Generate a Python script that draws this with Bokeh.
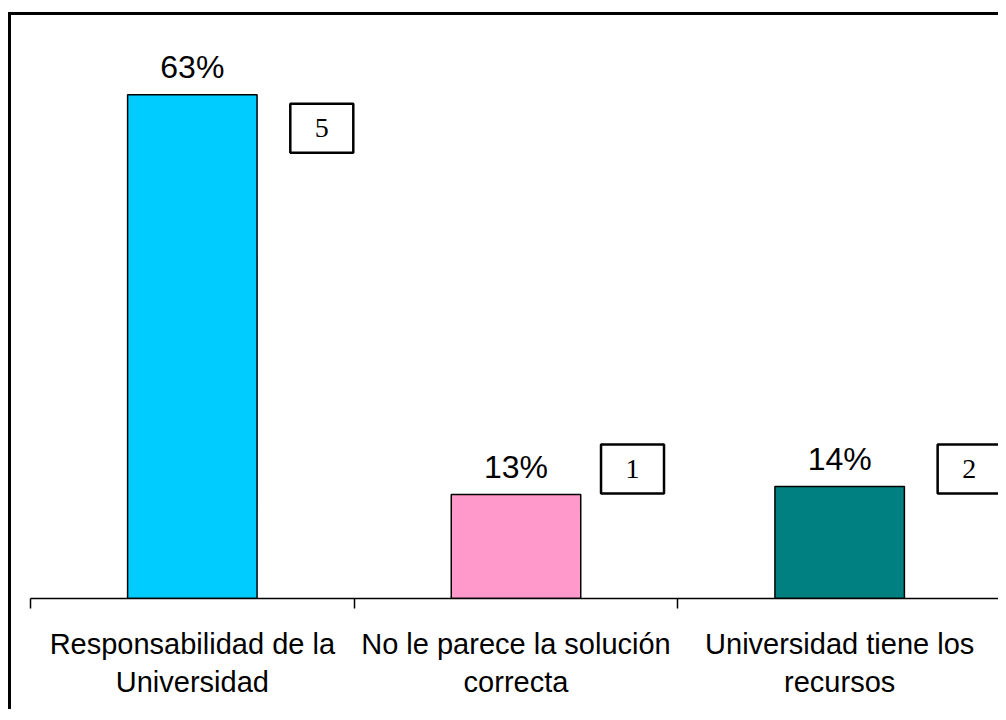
from bokeh.plotting import figure
from bokeh.models import ColumnDataSource, Range1d, LinearAxis, FixedTicker
from bokeh.core.properties import value
from bokeh.embed import file_html
from bokeh.resources import INLINE

# ---- data ----
categories = ["Responsabilidad de la\nUniversidad",
              "No le parece la solución\ncorrecta",
              "Universidad tiene los\nrecursos"]
percent = [63, 13, 14]
counts = [5, 1, 2]
colors = ["#00CCFF", "#FF99CC", "#008080"]

# label-box placement (offsets relative to each bar)
box_dx = [0.40, 0.36, 0.40]
box_dy = [-4.2, 3.2, 2.2]

FONT = "Liberation Sans"
n = len(categories)
centers = [i + 0.5 for i in range(n)]   # category slot centres

W, H = 990, 697
p = figure(x_range=Range1d(0, n), y_range=Range1d(0, 72.9),
           width=W, height=H, output_backend="svg", toolbar_location=None,
           min_border_left=19, min_border_right=0, min_border_top=0,
           min_border_bottom=114, x_axis_location=None, y_axis_location=None)
p.styles = {"border-left": "3px solid black", "border-top": "3px solid black",
            "margin-top": "12px", "margin-left": "8px"}
p.outline_line_color = None
p.xgrid.visible = False
p.ygrid.visible = False
p.background_fill_color = "white"
p.border_fill_color = "white"

src = ColumnDataSource(dict(x=centers, pct=percent, color=colors,
                            lbl=[f"{v}%" for v in percent]))
p.vbar(x="x", top="pct", width=0.4, fill_color="color", line_color="black",
       line_width=1.5, source=src)
p.text(x="x", y="pct", text="lbl", text_align="center", text_baseline="alphabetic",
       y_offset=-28, text_font=value(FONT), text_font_size="32px", text_color="black",
       source=src)

bsrc = ColumnDataSource(dict(
    x=[c + dx for c, dx in zip(centers, box_dx)],
    y=[v + dy for v, dy in zip(percent, box_dy)],
    t=[str(c) for c in counts]))
p.rect(x="x", y="y", width=63, height=49, width_units="screen", height_units="screen",
       fill_color="white", line_color="black", line_width=2.5, source=bsrc)
p.text(x="x", y="y", text="t", text_align="center", text_baseline="middle",
       text_font=value("Liberation Serif"), text_font_size="28px", text_color="black",
       source=bsrc)

# category axis with ticks at category boundaries
ax = LinearAxis(ticker=FixedTicker(ticks=centers, minor_ticks=list(range(n + 1))))
ax.major_label_overrides = {c: lab for c, lab in zip(centers, categories)}
ax.major_tick_out = 0
ax.major_tick_in = 0
ax.minor_tick_out = 10
ax.minor_tick_in = 0
ax.minor_tick_line_color = "black"
ax.minor_tick_line_width = 1.5
ax.axis_line_color = "black"
ax.axis_line_width = 1.5
ax.major_label_standoff = 19
ax.major_label_text_font = FONT
ax.major_label_text_font_size = "29px"
ax.major_label_text_color = "black"
ax.major_label_text_line_height = 1.2
ax.major_label_orientation = "horizontal"
p.add_layout(ax, "below")

open("out.html", "w").write(file_html(p, INLINE))
